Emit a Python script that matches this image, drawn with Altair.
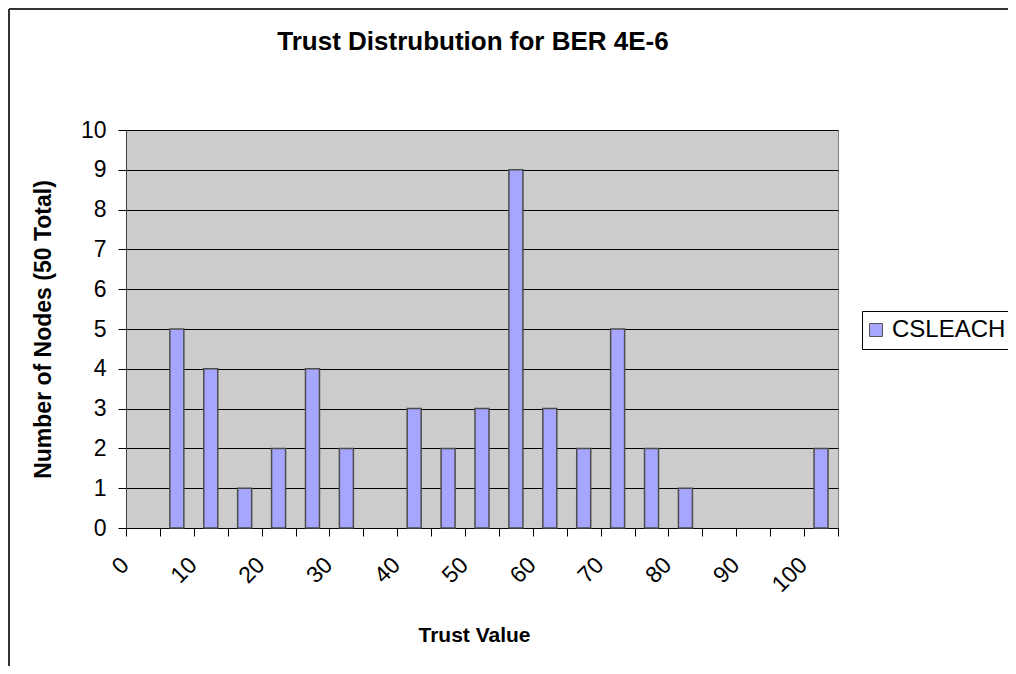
import altair as alt
import pandas as pd

# ---- data ----
trust_values = [0, 5, 10, 15, 20, 25, 30, 35, 40, 45, 50, 55, 60, 65, 70, 75, 80, 85, 90, 95, 100]
node_counts = [0, 5, 4, 1, 2, 4, 2, 0, 3, 2, 3, 9, 3, 2, 5, 2, 1, 0, 0, 0, 2]
series_name = "CSLEACH"
y_ticks = [0, 1, 2, 3, 4, 5, 6, 7, 8, 9, 10]
chart_title = "Trust Distrubution for BER 4E-6"
x_title = "Trust Value"
y_title = "Number of Nodes (50 Total)"

df = pd.DataFrame({"trust": trust_values, "count": node_counts, "series": series_name})

FONT = "Liberation Sans"
W, H = 712, 398
PAD = {"left": 118, "top": 122, "right": 170, "bottom": 138}

bars = (
    alt.Chart(df)
    .transform_filter("datum.count > 0")
    .mark_bar(size=14, stroke="#4d4d4d", strokeWidth=1.5)
    .encode(
        x=alt.X(
            "trust:O",
            scale=alt.Scale(domain=trust_values, paddingInner=0, paddingOuter=0),
            axis=alt.Axis(
                title=x_title,
                labelExpr="datum.value % 10 == 0 ? datum.label : ''",
                labelAngle=-45,
                labelAlign="right",
                labelBaseline="middle",
                labelOffset=-18,
                labelPadding=25,
                labelFontSize=23,
                labelColor="black",
                labelOverlap=False,
                labelBound=False,
                tickBand="extent",
                tickSize=8,
                tickColor="black",
                domainColor="black",
                titleFontSize=21,
                titleFontWeight="bold",
                titleColor="black",
                titleX=348,
                titleY=113,
                titleAlign="center",
                titleBaseline="alphabetic",
            ),
        ),
        y=alt.Y(
            "count:Q",
            scale=alt.Scale(domain=[0, 10], nice=False),
            axis=alt.Axis(
                title=y_title,
                values=y_ticks,
                grid=True,
                gridColor="black",
                gridWidth=1,
                tickSize=8,
                tickColor="black",
                domainColor="#404040",
                labelFontSize=23,
                labelPadding=12,
                labelColor="black",
                titleFontSize=23,
                titleFontWeight="bold",
                titleColor="black",
                titleX=-83,
                titleY=199,
                titleAngle=270,
                titleAlign="center",
                titleBaseline="middle",
            ),
        ),
        color=alt.Color(
            "series:N",
            scale=alt.Scale(domain=[series_name], range=["#a6a6ff"]),
            legend=alt.Legend(
                title=None,
                orient="none",
                legendX=736,
                legendY=181,
                strokeColor="black",
                fillColor="white",
                padding=7,
                symbolType="square",
                symbolSize=169,
                symbolOffset=-5,
                symbolStrokeColor="#555555",
                symbolStrokeWidth=1,
                labelFontSize=24,
                labelOffset=4,
                labelColor="black",
            ),
        ),
    )
)

title_text = (
    alt.Chart(alt.Data(values=[{"t": chart_title}]))
    .mark_text(fontSize=26, fontWeight="bold", align="center", baseline="alphabetic", color="black")
    .encode(text="t:N", x=alt.value(347), y=alt.value(-80))
)

left_border = (
    alt.Chart(alt.Data(values=[{}]))
    .mark_rule(color="#333333", strokeWidth=2)
    .encode(x=alt.value(-117), y=alt.value(-121), y2=alt.value(H + 138))
)
top_border = (
    alt.Chart(alt.Data(values=[{}]))
    .mark_rule(color="#333333", strokeWidth=2)
    .encode(y=alt.value(-121), x=alt.value(-117), x2=alt.value(W + 170))
)

chart = (
    alt.layer(bars, title_text, left_border, top_border)
    .properties(width=W, height=H, padding=PAD, autosize="none", background="white")
    .configure(font=FONT)
    .configure_view(fill="#cccccc", stroke="#808080")
)

chart.save("out.html", embed_options={"renderer": "svg", "actions": False})
